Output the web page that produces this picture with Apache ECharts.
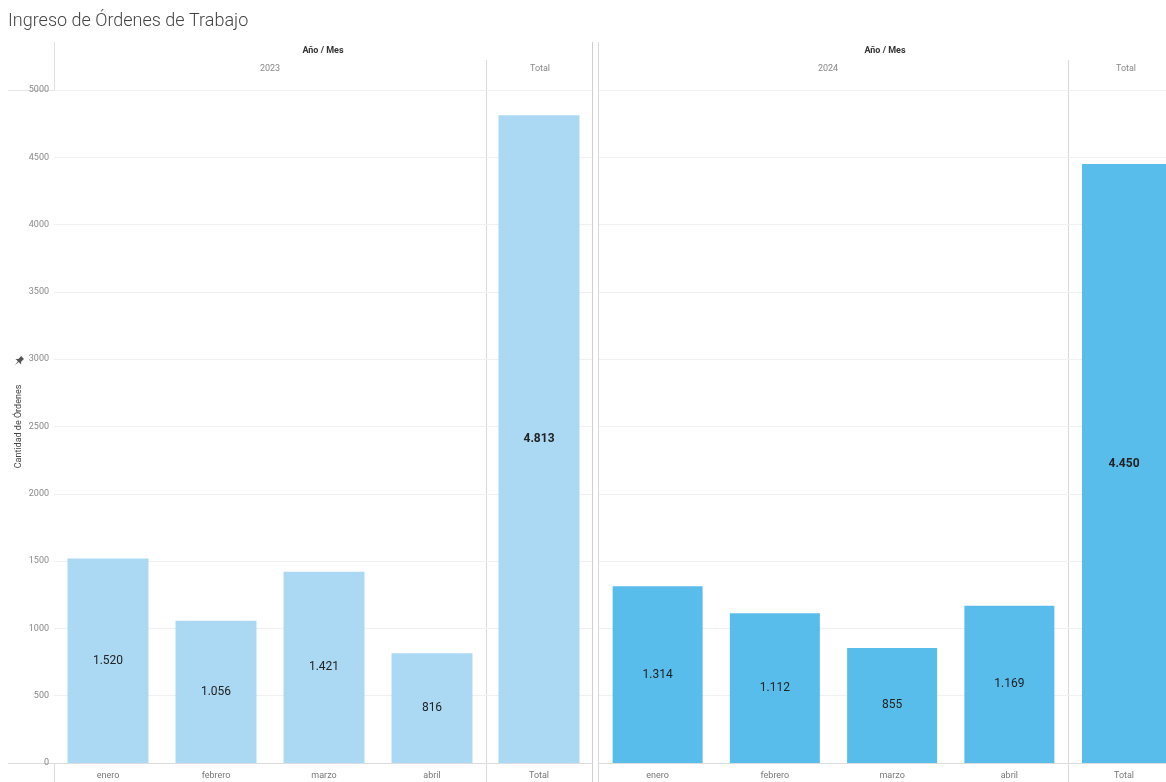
<!DOCTYPE html>
<html><head><meta charset="utf-8">
<script src="https://cdn.jsdelivr.net/npm/echarts@6/dist/echarts.min.js"></script>
<style>html,body{margin:0;padding:0;background:#fff}#c{width:1166px;height:782px}</style>
</head><body><div id="c"></div>
<script>
const months = ['enero','febrero','marzo','abril'];
const totalCat = ['Total'];
const values2023 = [1520, 1056, 1421, 816];
const total2023 = [4813];
const values2024 = [1314, 1112, 855, 1169];
const total2024 = [4450];
const yTicks = {min: 0, max: 5000, interval: 500};

const FONT = 'Roboto, "Liberation Sans", sans-serif';
const c1 = '#abd9f4', c2 = '#59bdec';
const fmt = v => String(v).replace(/\B(?=(\d{3})+(?!\d))/g, '.');

const grids = [
  {left: 54, top: 90, width: 432, bottom: 19},
  {left: 486, top: 90, width: 106, bottom: 19},
  {left: 599, top: 90, width: 469, bottom: 19},
  {left: 1068, top: 90, right: 0, bottom: 19},
  {left: 1082, top: 90, right: 0, bottom: 19}
];
const cats = [months, totalCat, months, totalCat, totalCat];
const xAxis = cats.map((d, i) => ({
  type: 'category', gridIndex: i, data: d,
  axisTick: {show: false},
  axisLine: {show: i !== 4, lineStyle: {color: '#dcdcdc'}},
  axisLabel: {show: i !== 3, color: '#777', fontSize: 9, fontFamily: FONT, margin: 8}
}));
const yAxis = cats.map((d, i) => ({
  type: 'value', gridIndex: i, min: yTicks.min, max: yTicks.max, interval: yTicks.interval,
  axisLine: {show: false}, axisTick: {show: false},
  splitLine: {show: i !== 4, lineStyle: {color: '#f0f0f0'}},
  axisLabel: {show: i === 0, color: '#888', fontSize: 9, fontFamily: FONT, margin: 5, formatter: v => String(v)},
  name: i === 0 ? 'Cantidad de Órdenes' : '',
  nameLocation: 'middle', nameRotate: 90, nameGap: 31,
  nameTextStyle: {color: '#444', fontSize: 9, fontFamily: FONT}
}));
function bar(data, idx, color, width, bold) {
  return {
    type: 'bar', xAxisIndex: idx, yAxisIndex: idx, data: data, barWidth: width,
    itemStyle: {color: color},
    label: {show: true, position: 'inside', formatter: p => fmt(p.value),
      color: '#222', fontSize: 12, fontWeight: bold ? 'bold' : 'normal', fontFamily: FONT},
    silent: true
  };
}
const vline = (x, y1, y2, col) => ({type: 'line', shape: {x1: x, y1: y1, x2: x, y2: y2}, style: {stroke: col || '#d9d9d9', lineWidth: 1}, silent: true});
const hline = (y, x1, x2, col) => ({type: 'line', shape: {x1: x1, y1: y, x2: x2, y2: y}, style: {stroke: col || '#e6e6e6', lineWidth: 1}, silent: true});
const txt = (x, y, t, o) => ({type: 'text', x: x, y: y, style: Object.assign({text: t, fill: '#888', fontSize: 9, fontFamily: FONT, align: 'center', verticalAlign: 'middle'}, o || {}), silent: true});

const chart = echarts.init(document.getElementById('c'));
chart.setOption({
  animation: false,
  title: {text: 'Ingreso de Órdenes de Trabajo', left: 3, top: 7,
    textStyle: {color: '#444', fontSize: 18, fontWeight: 300, fontFamily: FONT}},
  grid: grids,
  xAxis: xAxis,
  yAxis: yAxis,
  series: [
    bar(values2023, 0, c1, 81),
    bar(total2023, 1, c1, 81, true),
    bar(values2024, 2, c2, 90),
    bar(total2024, 4, c2, 90, true)
  ],
  graphic: [
    vline(54.5, 42, 90, '#e0e0e0'), hline(90.5, 8, 54, '#e6e6e6'),
    hline(763.5, 8, 54, '#dcdcdc'), vline(54.5, 763, 782, '#dcdcdc'),
    vline(486.5, 60, 782), vline(592.5, 42, 782, '#cfcfcf'), vline(598.5, 42, 782),
    vline(1068.5, 60, 782),
    txt(323, 51, 'Año / Mes', {fill: '#333', fontWeight: 'bold'}),
    txt(270, 69, '2023'), txt(540, 69, 'Total'),
    txt(885, 51, 'Año / Mes', {fill: '#333', fontWeight: 'bold'}),
    txt(828, 69, '2024'), txt(1126, 69, 'Total'),
    {type: 'polygon', x: 19, y: 361, rotation: -Math.PI / 4,
      shape: {points: [[-2,-5],[2,-5],[2,-1],[4,1],[0.5,1],[0,6],[-0.5,1],[-4,1],[-2,-1]]},
      style: {fill: '#555'}, silent: true}
  ]
});
</script></body></html>
